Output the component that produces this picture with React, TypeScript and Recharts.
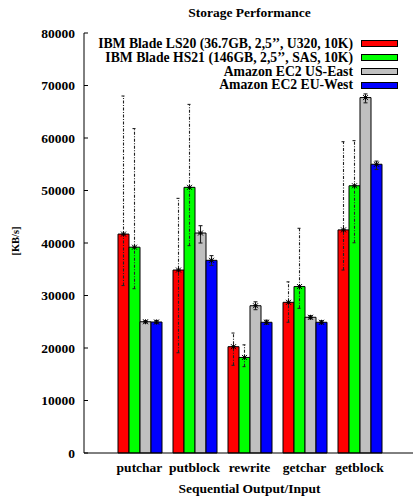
import { BarChart, Bar, XAxis, YAxis, ErrorBar, LabelList } from 'recharts';

// Bonnie++ style storage numbers (KB/s).
const categories = ['putchar', 'putblock', 'rewrite', 'getchar', 'getblock'];

const seriesNames = [
  'IBM Blade LS20 (36.7GB, 2,5\u2019\u2019, U320, 10K)',
  'IBM Blade HS21 (146GB, 2,5\u2019\u2019, SAS, 10K)',
  'Amazon EC2 US-East',
  'Amazon EC2 EU-West',
];
const seriesColors = ['#ff0000', '#00ff00', '#c0c0c0', '#0000ff'];

const ls20 = [41700, 34850, 20250, 28700, 42500];
const ls20Low = [31900, 19100, 16700, 24900, 34850];
const ls20High = [68000, 48500, 22850, 32600, 59300];

const hs21 = [39200, 50600, 18200, 31700, 50900];
const hs21Low = [31300, 39500, 16450, 27550, 40050];
const hs21High = [61800, 66400, 20600, 42800, 59500];

const usEast = [25000, 41900, 28050, 25850, 67700];
const usEastLow = [24800, 40000, 27300, 25550, 66700];
const usEastHigh = [25200, 43300, 28800, 26150, 68400];

const euWest = [24950, 36700, 24900, 24900, 55000];
const euWestLow = [24650, 35700, 24500, 24600, 54000];
const euWestHigh = [25250, 37600, 25300, 25200, 55600];

const yTicks = [0, 10000, 20000, 30000, 40000, 50000, 60000, 70000, 80000];

const series = [
  { v: ls20, lo: ls20Low, hi: ls20High },
  { v: hs21, lo: hs21Low, hi: hs21High },
  { v: usEast, lo: usEastLow, hi: usEastHigh },
  { v: euWest, lo: euWestLow, hi: euWestHigh },
];

// recharts veut des deltas [bas, haut] pour les barres d'erreur asymetriques
const data = categories.map((cat, i) => {
  const row: any = { cat };
  series.forEach((s, k) => {
    row['s' + k] = s.v[i];
    row['e' + k] = [s.v[i] - s.lo[i], s.hi[i] - s.v[i]];
  });
  return row;
});

const FONT = '"Liberation Serif", "DejaVu Serif", serif';
const TICK = 4;

const LeftTick = (p: any) => (
  <g>
    <line x1={p.x} x2={p.x + TICK} y1={p.y} y2={p.y} stroke="#000" />
    <text x={p.x - 9} y={p.y} textAnchor="end" dominantBaseline="central"
      fontFamily={FONT} fontWeight="bold" fontSize={13.5} fill="#000">
      {p.payload.value}
    </text>
  </g>
);

const RightTick = (p: any) => (
  <line x1={p.x - TICK} x2={p.x} y1={p.y} y2={p.y} stroke="#000" />
);

const TopTick = (p: any) => (
  <line x1={p.x} x2={p.x} y1={p.y} y2={p.y + TICK} stroke="#000" />
);

const CatTick = (p: any) => (
  <text x={p.x} y={p.y + 14} textAnchor="middle" dominantBaseline="central"
    fontFamily={FONT} fontWeight="bold" fontSize={13.5} fill="#000">
    {p.payload.value}
  </text>
);

// petite etoile au sommet de chaque barre (point de l'errorbar gnuplot)
const Marker = (p: any) => {
  const vb = p.viewBox || p;
  if (vb == null || vb.x == null) return null;
  const cx = vb.x + vb.width / 2;
  const cy = vb.y;
  const r = 2.5;
  return (
    <g stroke="#000" strokeWidth={1}>
      <line x1={cx - r} x2={cx + r} y1={cy - r} y2={cy + r} />
      <line x1={cx - r} x2={cx + r} y1={cy + r} y2={cy - r} />
      <line x1={cx - r} x2={cx + r} y1={cy} y2={cy} />
      <line x1={cx} x2={cx} y1={cy - r} y2={cy + r} />
    </g>
  );
};

const XTitle = (p: any) => {
  const vb = p.viewBox;
  return (
    <text x={vb.x + vb.width / 2} y={vb.y + 35} textAnchor="middle" dominantBaseline="central"
      fontFamily={FONT} fontWeight="bold" fontSize={13.5} fill="#000">
      Sequential Output/Input
    </text>
  );
};

export default function App() {
  return (
    <div style={{ position: 'fixed', left: 0, top: 0, width: 413, height: 499, overflow: 'hidden', background: '#fff' }}>
      <div style={{
        position: 'absolute', top: 4, left: 84, width: 331, textAlign: 'center',
        fontFamily: FONT, fontWeight: 'bold', fontSize: 13.5, lineHeight: '18px', color: '#000',
      }}>
        Storage Performance
      </div>
      <div style={{
        position: 'absolute', left: 15, top: 241, transform: 'translate(-50%, -50%) rotate(-90deg)',
        fontFamily: FONT, fontWeight: 'bold', fontSize: 10.5, whiteSpace: 'nowrap', color: '#000',
      }}>
        [KB/s]
      </div>
      <BarChart
        width={415}
        height={499}
        data={data}
        margin={{ top: 33, right: 0, bottom: 0, left: 0 }}
        barSize={11}
        barGap={0}
      >
        <XAxis dataKey="cat" xAxisId={0} height={46} padding={{ left: 28, right: 28 }} interval={0}
          stroke="#000" tickLine={false} tickSize={0} tickMargin={0} tick={<CatTick />}
          label={{ content: <XTitle /> }} />
        <XAxis dataKey="cat" xAxisId="top" orientation="top" height={0} padding={{ left: 28, right: 28 }} interval={0}
          stroke="#000" tickLine={false} tickSize={0} tickMargin={0} tick={<TopTick />} />
        <YAxis yAxisId={0} width={84} domain={[0, 80000]} ticks={yTicks} stroke="#000"
          tickLine={false} tickSize={0} tickMargin={0} tick={<LeftTick />} interval={0} />
        <YAxis yAxisId="right" orientation="right" width={0} domain={[0, 80000]} ticks={yTicks} stroke="#000"
          tickLine={false} tickSize={0} tickMargin={0} tick={<RightTick />} interval={0} />
        {seriesColors.map((c, k) => (
          <Bar key={k} dataKey={'s' + k} name={seriesNames[k]} fill={c} stroke="#000" strokeWidth={1}
            isAnimationActive={false}>
            <ErrorBar dataKey={'e' + k} width={2} stroke="#222" strokeWidth={1.1}
              strokeDasharray={k < 2 ? '3 1.5 1 1.5' : undefined} isAnimationActive={false} />
            <LabelList dataKey={'s' + k} content={<Marker />} />
          </Bar>
        ))}
      </BarChart>
      <div style={{ position: 'absolute', top: 37, left: 0, width: 398 }}>
        {seriesNames.map((n, k) => (
          <div key={k} style={{ display: 'flex', justifyContent: 'flex-end', alignItems: 'center', height: 13.8 }}>
            <span style={{ fontFamily: FONT, fontWeight: 'bold', fontSize: 13.7, color: '#000', whiteSpace: 'nowrap', lineHeight: '13.8px' }}>
              {n}
            </span>
            <span style={{
              display: 'inline-block', marginLeft: 8, width: 35, height: 5,
              background: seriesColors[k], border: '1px solid #000',
            }} />
          </div>
        ))}
      </div>
    </div>
  );
}
